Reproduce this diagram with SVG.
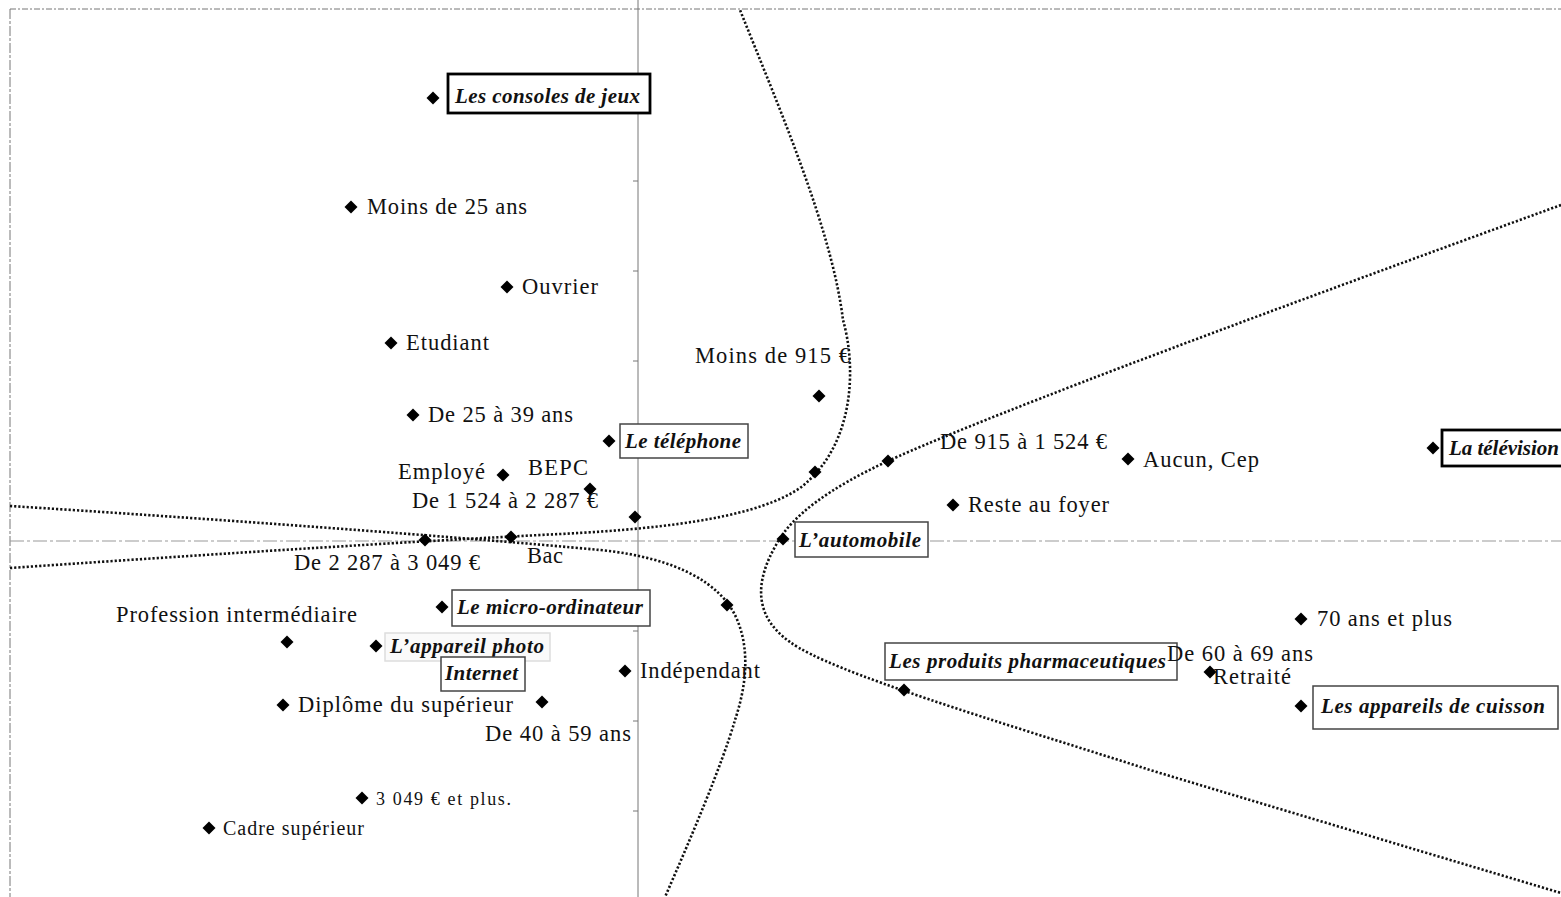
<svg xmlns="http://www.w3.org/2000/svg" width="1561" height="897" viewBox="0 0 1561 897">
<defs>
<style>
.t{font-family:"Liberation Serif","Times New Roman",serif;font-size:22.5px;fill:#111}
.b{font-family:"Liberation Serif","Times New Roman",serif;font-size:21px;font-weight:bold;font-style:italic;fill:#111}
.box{fill:#fff;stroke:#444;stroke-width:1.5}
.thick{fill:#fff;stroke:#000;stroke-width:2.8}
.faint{fill:#fafafa;stroke:#ddd;stroke-width:1.5}
.cv{fill:none;stroke:#111;stroke-width:2.6;stroke-dasharray:2.2 2}
.ax{fill:none;stroke:#777;stroke-width:1}
</style>
<path id="dm" d="M0,-6.5 L6.5,0 L0,6.5 L-6.5,0 Z" fill="#000"/>
</defs>
<rect width="1561" height="897" fill="#fff"/>
<g id="axes">
<line class="ax" x1="10" y1="9" x2="1561" y2="9" stroke-dasharray="6 2 2 2" stroke="#999"/>
<line class="ax" x1="10" y1="9" x2="10" y2="897" stroke-dasharray="10 2 3 2"/>
<line class="ax" x1="638" y1="0" x2="638" y2="897"/>
<line x1="10" y1="541" x2="1561" y2="541" stroke="#999" stroke-width="1.2" stroke-dasharray="14 3 3 3"/>
<path class="ax" d="M633,91H638M633,181H638M633,271H638M633,361H638M633,451H638M633,631H638M633,721H638M633,811H638"/>
</g>
<g id="connectors">
<path class="cv" d="M10,568 C200,555 400,542 560,534 C680,528 760,515 800,488 C856,445 856,365 843,320 C832,230 780,110 740,10"/>
<path class="cv" d="M10,506 C200,518 450,536 600,550 C680,558 720,585 735,615 C752,650 745,690 735,720 C722,765 690,840 665,897"/>
<path class="cv" d="M1561,205 C1300,300 1000,410 888,461 C830,488 792,515 776,545 C756,580 752,615 790,642 C830,672 1000,722 1150,770 C1300,815 1450,860 1561,893"/>
</g>
<g id="n-consoles"><rect class="thick" x="448" y="74" width="202" height="39"/><use href="#dm" x="433" y="98"/><text class="b" x="455" y="103" textLength="185" lengthAdjust="spacing">Les consoles de jeux</text></g>
<g id="n-moins25"><use href="#dm" x="351" y="207"/><text class="t" x="367" y="214" textLength="160" lengthAdjust="spacing">Moins de 25 ans</text></g>
<g id="n-ouvrier"><use href="#dm" x="507" y="287"/><text class="t" x="522" y="294" textLength="76" lengthAdjust="spacing">Ouvrier</text></g>
<g id="n-etudiant"><use href="#dm" x="391" y="343"/><text class="t" x="406" y="350" textLength="83" lengthAdjust="spacing">Etudiant</text></g>
<g id="n-25-39"><use href="#dm" x="413" y="415"/><text class="t" x="428" y="422" textLength="145" lengthAdjust="spacing">De 25 à 39 ans</text></g>
<g id="n-telephone"><rect class="box" x="620" y="424" width="128" height="34" stroke="#666"/><use href="#dm" x="609" y="441"/><text class="b" x="625" y="448" textLength="116" lengthAdjust="spacing">Le téléphone</text></g>
<g id="n-moins915"><use href="#dm" x="819" y="396"/><text class="t" x="695" y="363" textLength="155" lengthAdjust="spacing">Moins de 915 €</text></g>
<g id="n-employe"><use href="#dm" x="503" y="475"/><text class="t" x="398" y="479" textLength="87" lengthAdjust="spacing">Employé</text></g>
<g id="n-bepc"><use href="#dm" x="590" y="489"/><text class="t" x="528" y="475" textLength="60" lengthAdjust="spacing">BEPC</text></g>
<g id="n-1524-2287"><use href="#dm" x="635" y="517"/><text class="t" x="412" y="508" textLength="186" lengthAdjust="spacing">De 1 524 à 2 287 €</text></g>
<g id="n-2287-3049"><use href="#dm" x="425" y="540"/><text class="t" x="294" y="570" textLength="186" lengthAdjust="spacing">De 2 287 à 3 049 €</text></g>
<g id="n-bac"><use href="#dm" x="511" y="537"/><text class="t" x="527" y="563" textLength="36" lengthAdjust="spacing">Bac</text></g>
<g id="n-p815"><use href="#dm" x="815" y="472"/></g>
<g id="n-915-1524"><use href="#dm" x="888" y="461"/><text class="t" x="940" y="449" textLength="167" lengthAdjust="spacing">De 915 à 1 524 €</text></g>
<g id="n-aucun"><use href="#dm" x="1128" y="459"/><text class="t" x="1143" y="467" textLength="116" lengthAdjust="spacing">Aucun, Cep</text></g>
<g id="n-foyer"><use href="#dm" x="953" y="505"/><text class="t" x="968" y="512" textLength="141" lengthAdjust="spacing">Reste au foyer</text></g>
<g id="n-television"><rect class="thick" x="1442" y="430" width="130" height="36"/><use href="#dm" x="1433" y="448"/><text class="b" x="1449" y="455" textLength="110" lengthAdjust="spacing">La télévision</text></g>
<g id="n-automobile"><rect class="box" x="795" y="522" width="133" height="35" stroke="#666"/><use href="#dm" x="783" y="539"/><text class="b" x="799" y="547" textLength="122" lengthAdjust="spacing">L’automobile</text></g>
<g id="n-micro"><rect class="box" x="452" y="590" width="198" height="36"/><use href="#dm" x="442" y="607"/><text class="b" x="457" y="614" textLength="186" lengthAdjust="spacing">Le micro-ordinateur</text></g>
<g id="n-profinter"><use href="#dm" x="287" y="642"/><text class="t" x="116" y="622" textLength="241" lengthAdjust="spacing">Profession intermédiaire</text></g>
<g id="n-photo"><rect class="faint" x="385" y="633" width="165" height="28"/><use href="#dm" x="376" y="646"/><text class="b" x="390" y="653" textLength="154" lengthAdjust="spacing">L’appareil photo</text></g>
<g id="n-internet"><rect class="box" x="441" y="657" width="84" height="34"/><text class="b" x="445" y="680" textLength="73" lengthAdjust="spacing">Internet</text></g>
<g id="n-p727"><use href="#dm" x="727" y="605"/></g>
<g id="n-independant"><use href="#dm" x="625" y="671"/><text class="t" x="640" y="678" textLength="120" lengthAdjust="spacing">Indépendant</text></g>
<g id="n-diplome"><use href="#dm" x="283" y="705"/><text class="t" x="298" y="712" textLength="215" lengthAdjust="spacing">Diplôme du supérieur</text></g>
<g id="n-40-59"><use href="#dm" x="542" y="702"/><text class="t" x="485" y="741" textLength="146" lengthAdjust="spacing">De 40 à 59 ans</text></g>
<g id="n-pharma"><rect class="box" x="885" y="643" width="292" height="37" stroke="#aaa"/><use href="#dm" x="904" y="690"/><text class="b" x="889" y="668" textLength="277" lengthAdjust="spacing">Les produits pharmaceutiques</text></g>
<g id="n-60-69"><text class="t" x="1167" y="661" textLength="146" lengthAdjust="spacing">De 60 à 69 ans</text></g>
<g id="n-retraite"><use href="#dm" x="1210" y="672"/><text class="t" x="1213" y="684" textLength="78" lengthAdjust="spacing">Retraité</text></g>
<g id="n-70plus"><use href="#dm" x="1301" y="619"/><text class="t" x="1317" y="626" textLength="135" lengthAdjust="spacing">70 ans et plus</text></g>
<g id="n-cuisson"><rect class="box" x="1313" y="686" width="245" height="43" stroke="#333" stroke-width="1.8"/><use href="#dm" x="1301" y="706"/><text class="b" x="1321" y="713" textLength="224" lengthAdjust="spacing">Les appareils de cuisson</text></g>
<g id="n-3049plus"><use href="#dm" x="362" y="798"/><text class="t" x="376" y="805" style="font-size:18px" textLength="135" lengthAdjust="spacing">3 049 € et plus.</text></g>
<g id="n-cadre"><use href="#dm" x="209" y="828"/><text class="t" x="223" y="835" style="font-size:20px" textLength="141" lengthAdjust="spacing">Cadre supérieur</text></g>
</svg>
